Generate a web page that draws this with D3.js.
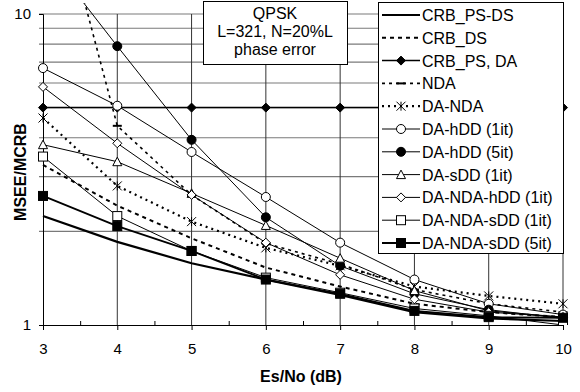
<!DOCTYPE html>
<html>
<head>
<meta charset="utf-8">
<script src="https://cdn.jsdelivr.net/npm/d3@7"></script>
<style>
  body { margin: 0; background: #fff; }
  text { font-family: "Liberation Sans", Arial, sans-serif; }
</style>
</head>
<body>
<div></div>
<script>
'use strict';

// Es/No (dB)
var esno = [3, 4, 5, 6, 7, 8, 9, 10];
var xTicks = [3, 4, 5, 6, 7, 8, 9, 10];
var yTicks = [1, 10];
var yGrid = [2, 3, 4, 5, 6, 7, 8, 9, 10];

var crbPsDs      = [2.24, 1.85, 1.58, 1.40, 1.25, 1.10, 1.05, 1.03];
var crbDs        = [3.27, 2.42, 1.90, 1.53, 1.33, 1.17, 1.10, 1.06];
var crbPsDa      = [5, 5, 5, 5, 5, 5, 5, 5];
var nda          = [35, 4.37, 2.62, 1.83, 1.57, 1.30, 1.17, 1.10];
var daNda        = [4.63, 2.80, 2.15, 1.77, 1.55, 1.33, 1.24, 1.17];
var daHdd1       = [6.7, 5.07, 3.6, 2.58, 1.84, 1.40, 1.17, 1.08];
var daHdd5       = [16, 7.88, 3.94, 2.22, 1.55, 1.26, 1.12, 1.05];
var daSdd1       = [3.80, 3.35, 2.65, 2.09, 1.64, 1.29, 1.11, 1.06];
var daNdaHdd1    = [5.83, 3.84, 2.62, 1.84, 1.45, 1.21, 1.10, 1.06];
var daNdaSdd1    = [3.48, 2.24, 1.73, 1.42, 1.27, 1.13, 1.07, 1.00];
var daNdaSdd5    = [2.60, 2.08, 1.73, 1.40, 1.26, 1.11, 1.06, 1.055];

var series = [
  {name: "CRB_PS-DS", values: crbPsDs, width: 2.2, dash: null, marker: null},
  {name: "CRB_DS", values: crbDs, width: 2, dash: "4,4", marker: null},
  {name: "CRB_PS, DA", values: crbPsDa, width: 1.5, dash: null, marker: "diamondFill"},
  {name: "NDA", values: nda, width: 1.6, dash: "3,4", marker: "dash"},
  {name: "DA-NDA", values: daNda, width: 2.2, dash: "2,4", marker: "cross"},
  {name: "DA-hDD (1it)", values: daHdd1, width: 1, dash: null, marker: "circleOpen"},
  {name: "DA-hDD (5it)", values: daHdd5, width: 1, dash: null, marker: "circleFill"},
  {name: "DA-sDD (1it)", values: daSdd1, width: 1, dash: null, marker: "triangleOpen"},
  {name: "DA-NDA-hDD (1it)", values: daNdaHdd1, width: 1, dash: null, marker: "diamondOpen"},
  {name: "DA-NDA-sDD (1it)", values: daNdaSdd1, width: 1, dash: null, marker: "squareOpen"},
  {name: "DA-NDA-sDD (5it)", values: daNdaSdd5, width: 1.8, dash: null, marker: "squareFill"}
];

var svgWidth = 580;
var svgHeight = 392;
var plotLeft = 43, plotRight = 563, plotTop = 14, plotBottom = 325;

var xScale = d3.scaleLinear().domain([3, 10]).range([plotLeft, plotRight]);
var yScale = d3.scaleLog().domain([1, 10]).range([plotBottom, plotTop]);

var svg = d3.select("body").select("div")
  .append("svg")
    .attr("width", svgWidth)
    .attr("height", svgHeight);

// grid
svg.append("g")
  .selectAll("line")
  .data(yGrid)
  .enter().append("line")
    .attr("x1", plotLeft - 4)
    .attr("x2", plotRight)
    .attr("y1", function(d) { return yScale(d); })
    .attr("y2", function(d) { return yScale(d); })
    .attr("stroke", "#7a7a7a")
    .attr("stroke-width", 1.2);

svg.append("g")
  .selectAll("line")
  .data(xTicks.slice(1))
  .enter().append("line")
    .attr("x1", function(d) { return xScale(d); })
    .attr("x2", function(d) { return xScale(d); })
    .attr("y1", plotTop)
    .attr("y2", plotBottom)
    .attr("stroke", "#333")
    .attr("stroke-width", 1);

// axes
svg.append("g")
    .attr("transform", "translate(0," + plotBottom + ")")
  .call(d3.axisBottom(xScale).tickValues(xTicks).tickFormat(d3.format("d")).tickSize(5).tickPadding(13));
svg.append("g")
    .attr("transform", "translate(0," + plotBottom + ")")
  .call(d3.axisTop(xScale).tickValues(d3.range(3.5, 10, 1)).tickFormat("").tickSize(4))
  .select(".domain").remove();
svg.append("g")
    .attr("transform", "translate(" + plotLeft + ",0)")
  .call(d3.axisLeft(yScale).tickValues(yTicks).tickFormat(d3.format("d")).tickSize(4).tickPadding(8));

svg.selectAll(".domain").attr("stroke", "#000");
svg.selectAll(".tick line").attr("stroke", "#000");
svg.selectAll(".tick text")
  .attr("font-size", 15)
  .attr("font-family", "Liberation Sans, Arial, sans-serif")
  .attr("fill", "#000");

svg.append("text")
  .attr("x", 301)
  .attr("y", 382)
  .attr("text-anchor", "middle")
  .attr("font-size", 16)
  .attr("font-weight", "bold")
  .text("Es/No (dB)");

svg.append("text")
  .attr("transform", "translate(26,172) rotate(-90)")
  .attr("text-anchor", "middle")
  .attr("font-size", 16)
  .attr("font-weight", "bold")
  .text("MSEE/MCRB");

// clip
svg.append("clipPath").attr("id", "plot")
  .append("rect")
    .attr("x", plotLeft - 8).attr("y", 3)
    .attr("width", plotRight - plotLeft + 16).attr("height", plotBottom - 3);

var line = d3.line()
  .x(function(d, i) { return xScale(esno[i]); })
  .y(function(d) { return yScale(d); });

function drawMarker(g, type, cx, cy) {
  var s = 4.5;
  if (type === "diamondFill" || type === "diamondOpen") {
    g.append("path")
      .attr("d", "M" + cx + "," + (cy - s) + "L" + (cx + s) + "," + cy + "L" + cx + "," + (cy + s) + "L" + (cx - s) + "," + cy + "Z")
      .attr("fill", type === "diamondFill" ? "#000" : "#fff")
      .attr("stroke", "#000").attr("stroke-width", 1);
  } else if (type === "circleOpen" || type === "circleFill") {
    g.append("circle").attr("cx", cx).attr("cy", cy).attr("r", s)
      .attr("fill", type === "circleFill" ? "#000" : "#fff")
      .attr("stroke", "#000").attr("stroke-width", 1);
  } else if (type === "squareOpen" || type === "squareFill") {
    g.append("rect").attr("x", cx - s).attr("y", cy - s).attr("width", 2 * s).attr("height", 2 * s)
      .attr("fill", type === "squareFill" ? "#000" : "#fff")
      .attr("stroke", "#000").attr("stroke-width", 1);
  } else if (type === "triangleOpen") {
    g.append("path")
      .attr("d", "M" + cx + "," + (cy - s) + "L" + (cx + s) + "," + (cy + s - 0.5) + "L" + (cx - s) + "," + (cy + s - 0.5) + "Z")
      .attr("fill", "#fff").attr("stroke", "#000").attr("stroke-width", 1);
  } else if (type === "cross") {
    g.append("path")
      .attr("d", "M" + (cx - s) + "," + (cy - s) + "L" + (cx + s) + "," + (cy + s) +
                 "M" + (cx - s) + "," + (cy + s) + "L" + (cx + s) + "," + (cy - s) +
                 "M" + cx + "," + (cy - s) + "L" + cx + "," + (cy + s))
      .attr("fill", "none").attr("stroke", "#000").attr("stroke-width", 1);
  } else if (type === "dash") {
    g.append("line").attr("x1", cx - s).attr("x2", cx + s).attr("y1", cy).attr("y2", cy)
      .attr("stroke", "#000").attr("stroke-width", 2);
  }
}

var plot = svg.append("g").attr("clip-path", "url(#plot)");

series.forEach(function(s) {
  plot.append("path")
    .datum(s.values)
    .attr("fill", "none")
    .attr("stroke", "#000")
    .attr("stroke-width", s.width)
    .attr("stroke-dasharray", s.dash)
    .attr("d", line);
});

series.forEach(function(s) {
  if (!s.marker) return;
  s.values.forEach(function(v, i) {
    if (v > 10.2) return;
    drawMarker(plot, s.marker, xScale(esno[i]), yScale(v));
  });
});

// annotation box
var note = svg.append("g");
note.append("rect")
  .attr("x", 203.5).attr("y", 1.5).attr("width", 144).attr("height", 63)
  .attr("fill", "#fff").attr("stroke", "#000").attr("stroke-width", 1);
["QPSK", "L=321, N=20%L", "phase error"].forEach(function(t, i) {
  note.append("text")
    .attr("x", 275).attr("y", 19 + i * 18)
    .attr("text-anchor", "middle")
    .attr("font-size", 16)
    .text(t);
});

// legend
var legend = svg.append("g");
legend.append("rect")
  .attr("x", 378.5).attr("y", 2.5).attr("width", 185).attr("height", 251)
  .attr("fill", "#fff").attr("stroke", "#000").attr("stroke-width", 1);

series.forEach(function(s, i) {
  var cy = 15 + i * 22.8;
  var g = legend.append("g");
  g.append("line")
    .attr("x1", 382).attr("x2", 420).attr("y1", cy).attr("y2", cy)
    .attr("stroke", "#000")
    .attr("stroke-width", s.width)
    .attr("stroke-dasharray", s.dash);
  if (s.marker) drawMarker(g, s.marker, 401, cy);
  g.append("text")
    .attr("x", 422).attr("y", cy + 6)
    .attr("font-size", 16)
    .text(s.name);
});
</script>
</body>
</html>
